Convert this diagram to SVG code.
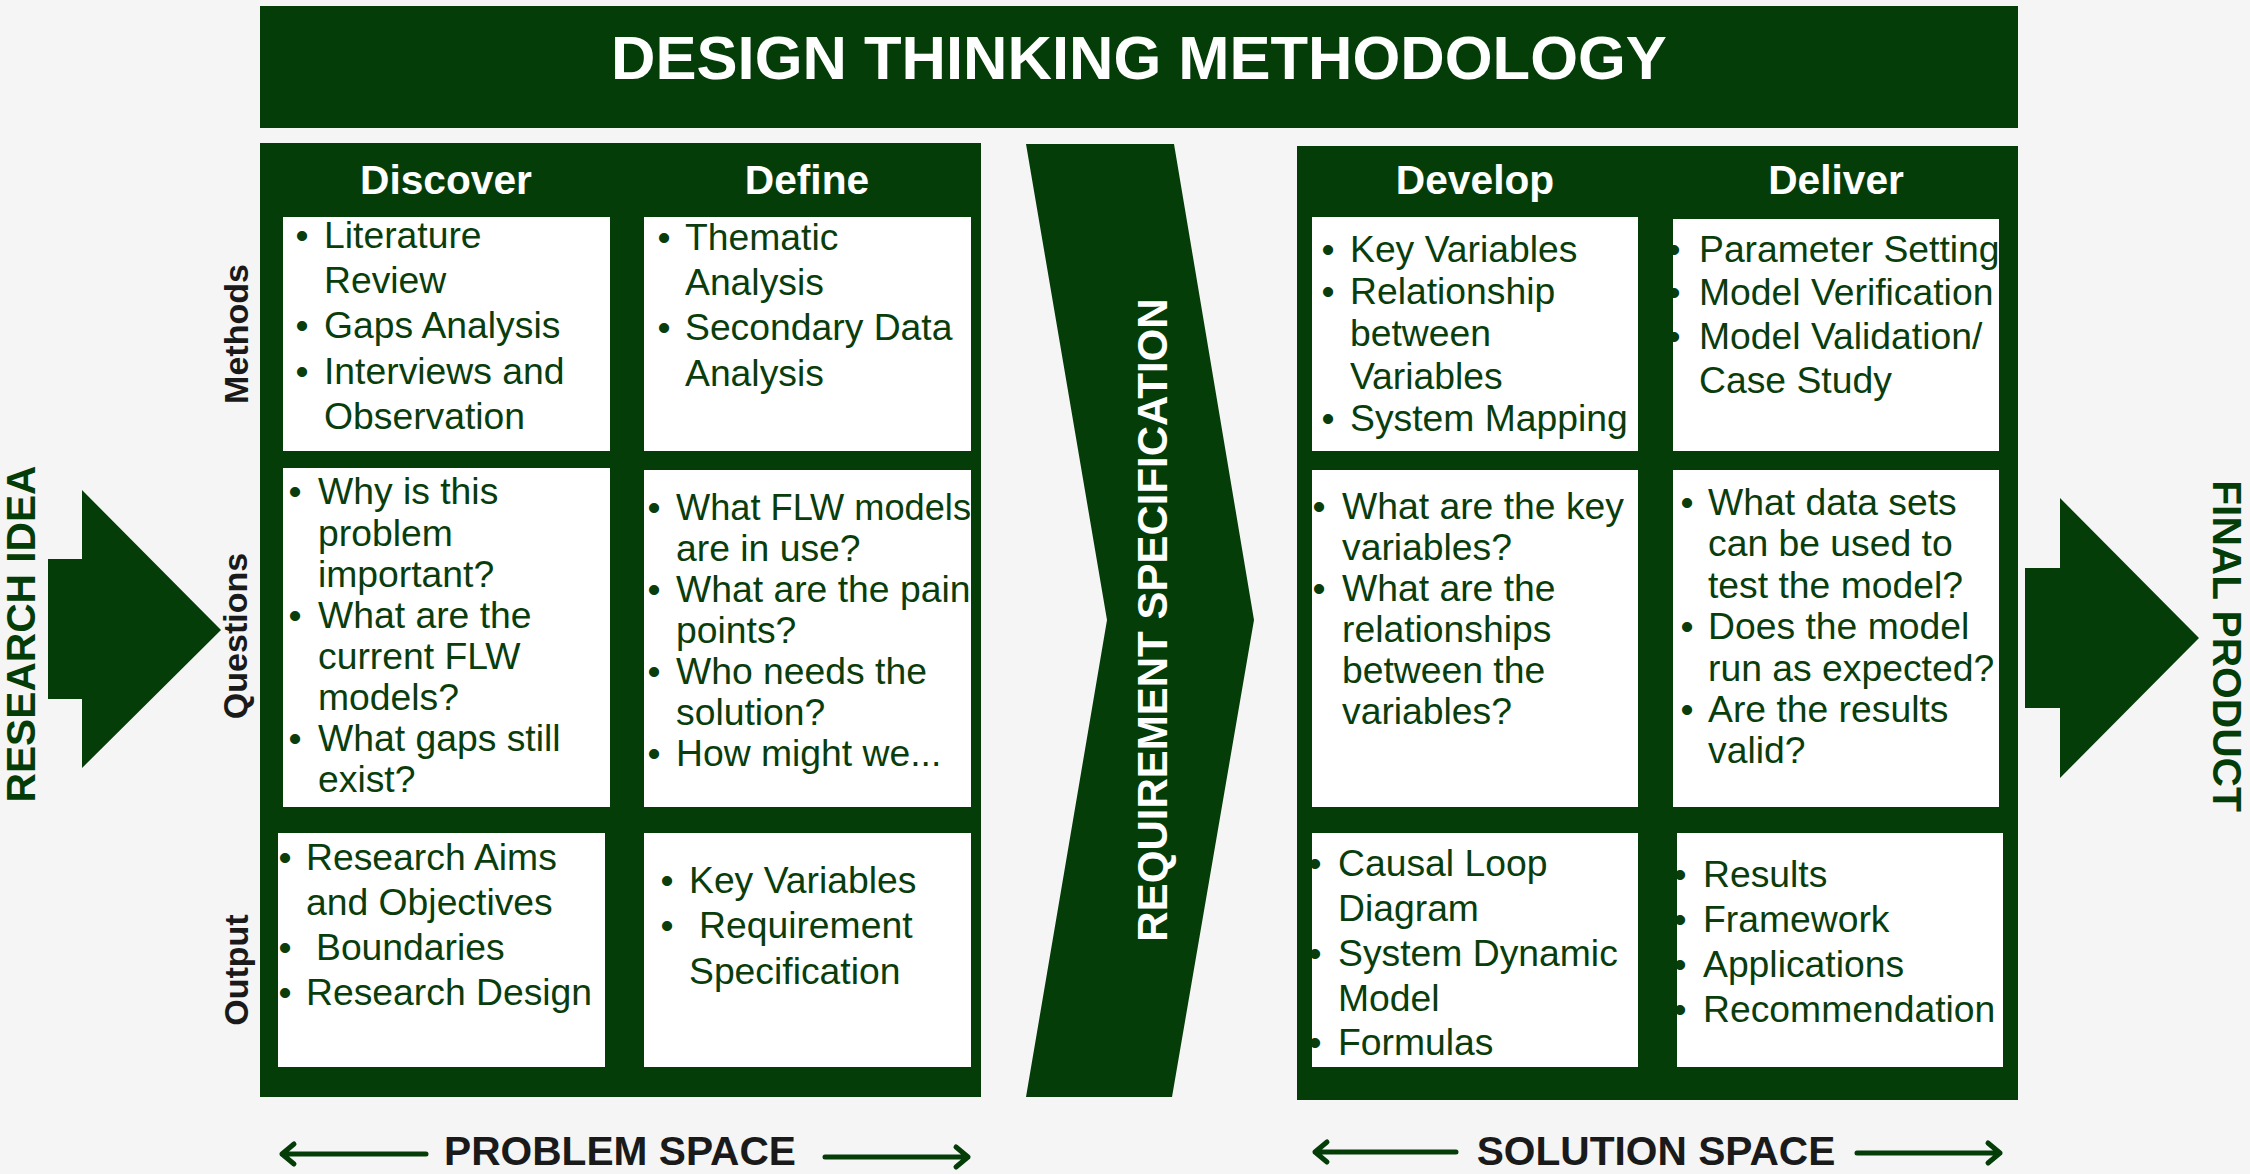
<svg xmlns="http://www.w3.org/2000/svg" width="2250" height="1174" viewBox="0 0 2250 1174">
<style>
.g{fill:#053d09}
.box{fill:#ffffff}
.t{font-family:"Liberation Sans",Arial,sans-serif;font-size:37.3px;fill:#0a3d0c}
.b{font-family:"Liberation Sans",Arial,sans-serif;font-size:37.3px;fill:#0a3d0c;text-anchor:middle}
.hd{font-family:"Liberation Sans",Arial,sans-serif;font-size:40.7px;font-weight:bold;fill:#ffffff;text-anchor:middle}
.side{font-family:"Liberation Sans",Arial,sans-serif;font-size:34px;font-weight:bold;fill:#1a1a1a;text-anchor:middle}
.big{font-family:"Liberation Sans",Arial,sans-serif;font-size:40.7px;font-weight:bold;fill:#053d09;text-anchor:middle}
.space{font-family:"Liberation Sans",Arial,sans-serif;font-size:40.7px;font-weight:bold;fill:#1a1a1a;text-anchor:middle}
.ln{stroke:#053d09;stroke-width:5;fill:none;stroke-linecap:round;stroke-linejoin:round}
</style>
<defs>
<clipPath id="c1"><rect x="278" y="833" width="327" height="234"/></clipPath>
<clipPath id="c2"><rect x="644" y="470" width="327" height="337"/></clipPath>
<clipPath id="c3"><rect x="1673" y="219" width="326" height="232"/></clipPath>
<clipPath id="c4"><rect x="1312" y="833" width="326" height="234"/></clipPath>
<clipPath id="c5"><rect x="1677" y="833" width="326" height="234"/></clipPath>
</defs>
<rect x="0" y="0" width="2250" height="1174" fill="#f5f5f5"/>

<g id="title">
<rect class="g" x="260" y="6" width="1758" height="122"/>
<text x="1139" y="79" font-family="Liberation Sans,Arial,sans-serif" font-size="61.5" font-weight="bold" fill="#ffffff" text-anchor="middle">DESIGN THINKING METHODOLOGY</text>
</g>

<g id="research-idea">
<polygon class="g" points="48,559 82,559 82,490 221,630 82,768 82,699 48,699"/>
<text class="big" transform="translate(35,634) rotate(-90)">RESEARCH IDEA</text>
</g>

<g id="final-product">
<polygon class="g" points="2025,568 2060,568 2060,498 2199,638 2060,778 2060,708 2025,708"/>
<text class="big" transform="translate(2213,646) rotate(90)">FINAL PRODUCT</text>
</g>

<g id="row-labels">
<text class="side" transform="translate(248,334) rotate(-90)">Methods</text>
<text class="side" transform="translate(247,636) rotate(-90)">Questions</text>
<text class="side" transform="translate(248,970) rotate(-90)">Output</text>
</g>

<g id="problem-space">
<rect class="g" x="260" y="143" width="721" height="954"/>
<text class="hd" x="446" y="194">Discover</text>
<text class="hd" x="807" y="194">Define</text>
</g>

<g id="discover-methods">
<rect class="box" x="283" y="217" width="327" height="234"/>
<text class="b" x="302" y="248">•</text><text class="t" x="324" y="248">Literature</text>
<text class="t" x="324" y="293">Review</text>
<text class="b" x="302" y="338">•</text><text class="t" x="324" y="338">Gaps Analysis</text>
<text class="b" x="302" y="384">•</text><text class="t" x="324" y="384">Interviews and</text>
<text class="t" x="324" y="429">Observation</text>
</g>

<g id="define-methods">
<rect class="box" x="644" y="217" width="327" height="234"/>
<text class="b" x="664" y="250">•</text><text class="t" x="685" y="250">Thematic</text>
<text class="t" x="685" y="295">Analysis</text>
<text class="b" x="664" y="340">•</text><text class="t" x="685" y="340">Secondary Data</text>
<text class="t" x="685" y="386">Analysis</text>
</g>

<g id="discover-questions">
<rect class="box" x="283" y="468" width="327" height="339"/>
<text class="b" x="295" y="504">•</text><text class="t" x="318" y="504">Why is this</text>
<text class="t" x="318" y="546">problem</text>
<text class="t" x="318" y="587">important?</text>
<text class="b" x="295" y="628">•</text><text class="t" x="318" y="628">What are the</text>
<text class="t" x="318" y="669">current FLW</text>
<text class="t" x="318" y="710">models?</text>
<text class="b" x="295" y="751">•</text><text class="t" x="318" y="751">What gaps still</text>
<text class="t" x="318" y="792">exist?</text>
</g>

<g id="define-questions">
<rect class="box" x="644" y="470" width="327" height="337"/>
<g clip-path="url(#c2)">
<text class="b" x="654" y="520">•</text><text class="t" x="676" y="520" textLength="295" lengthAdjust="spacingAndGlyphs">What FLW models</text>
<text class="t" x="676" y="561">are in use?</text>
<text class="b" x="654" y="602">•</text><text class="t" x="676" y="602">What are the pain</text>
<text class="t" x="676" y="643">points?</text>
<text class="b" x="654" y="684">•</text><text class="t" x="676" y="684">Who needs the</text>
<text class="t" x="676" y="725">solution?</text>
<text class="b" x="654" y="766">•</text><text class="t" x="676" y="766">How might we...</text>
</g>
</g>

<g id="discover-output">
<rect class="box" x="278" y="833" width="327" height="234"/>
<g clip-path="url(#c1)">
<text class="b" x="285" y="870">•</text><text class="t" x="306" y="870">Research Aims</text>
<text class="t" x="306" y="915">and Objectives</text>
<text class="b" x="285" y="960">•</text><text class="t" x="316" y="960">Boundaries</text>
<text class="b" x="285" y="1005">•</text><text class="t" x="306" y="1005">Research Design</text>
</g>
</g>

<g id="define-output">
<rect class="box" x="644" y="833" width="327" height="234"/>
<text class="b" x="667" y="893">•</text><text class="t" x="689" y="893">Key Variables</text>
<text class="b" x="667" y="938">•</text><text class="t" x="699" y="938">Requirement</text>
<text class="t" x="689" y="984">Specification</text>
</g>

<g id="requirement-specification">
<polygon class="g" points="1026,144 1174,144 1254,620 1172,1097 1026,1097 1107,620"/>
<text transform="translate(1167,620) rotate(-90)" font-family="Liberation Sans,Arial,sans-serif" font-size="42" font-weight="bold" fill="#ffffff" text-anchor="middle">REQUIREMENT SPECIFICATION</text>
</g>

<g id="solution-space">
<rect class="g" x="1297" y="146" width="721" height="954"/>
<text class="hd" x="1475" y="194">Develop</text>
<text class="hd" x="1836" y="194">Deliver</text>
</g>

<g id="develop-methods">
<rect class="box" x="1312" y="217" width="326" height="234"/>
<text class="b" x="1328" y="262">•</text><text class="t" x="1350" y="262">Key Variables</text>
<text class="b" x="1328" y="304">•</text><text class="t" x="1350" y="304">Relationship</text>
<text class="t" x="1350" y="346">between</text>
<text class="t" x="1350" y="389">Variables</text>
<text class="b" x="1328" y="431">•</text><text class="t" x="1350" y="431">System Mapping</text>
</g>

<g id="deliver-methods">
<rect class="box" x="1673" y="219" width="326" height="232"/>
<g clip-path="url(#c3)">
<text class="b" x="1674" y="262">•</text><text class="t" x="1699" y="262">Parameter Setting</text>
<text class="b" x="1674" y="305">•</text><text class="t" x="1699" y="305">Model Verification</text>
<text class="b" x="1674" y="349">•</text><text class="t" x="1699" y="349">Model Validation/</text>
<text class="t" x="1699" y="393">Case Study</text>
</g>
</g>

<g id="develop-questions">
<rect class="box" x="1312" y="470" width="326" height="337"/>
<text class="b" x="1319" y="519">•</text><text class="t" x="1342" y="519">What are the key</text>
<text class="t" x="1342" y="560">variables?</text>
<text class="b" x="1319" y="601">•</text><text class="t" x="1342" y="601">What are the</text>
<text class="t" x="1342" y="642">relationships</text>
<text class="t" x="1342" y="683">between the</text>
<text class="t" x="1342" y="724">variables?</text>
</g>

<g id="deliver-questions">
<rect class="box" x="1673" y="470" width="326" height="337"/>
<text class="b" x="1687" y="515">•</text><text class="t" x="1708" y="515">What data sets</text>
<text class="t" x="1708" y="556">can be used to</text>
<text class="t" x="1708" y="598">test the model?</text>
<text class="b" x="1687" y="639">•</text><text class="t" x="1708" y="639">Does the model</text>
<text class="t" x="1708" y="681">run as expected?</text>
<text class="b" x="1687" y="722">•</text><text class="t" x="1708" y="722">Are the results</text>
<text class="t" x="1708" y="763">valid?</text>
</g>

<g id="develop-output">
<rect class="box" x="1312" y="833" width="326" height="234"/>
<g clip-path="url(#c4)">
<text class="b" x="1315" y="876">•</text><text class="t" x="1338" y="876">Causal Loop</text>
<text class="t" x="1338" y="921">Diagram</text>
<text class="b" x="1315" y="966">•</text><text class="t" x="1338" y="966">System Dynamic</text>
<text class="t" x="1338" y="1011">Model</text>
<text class="b" x="1315" y="1055">•</text><text class="t" x="1338" y="1055">Formulas</text>
</g>
</g>

<g id="deliver-output">
<rect class="box" x="1677" y="833" width="326" height="234"/>
<g clip-path="url(#c5)">
<text class="b" x="1680" y="887">•</text><text class="t" x="1703" y="887">Results</text>
<text class="b" x="1680" y="932">•</text><text class="t" x="1703" y="932">Framework</text>
<text class="b" x="1680" y="977">•</text><text class="t" x="1703" y="977">Applications</text>
<text class="b" x="1680" y="1022">•</text><text class="t" x="1703" y="1022">Recommendation</text>
</g>
</g>

<g id="problem-space-label">
<text class="space" x="620" y="1165">PROBLEM SPACE</text>
</g>
<g id="solution-space-label">
<text class="space" x="1656" y="1165">SOLUTION SPACE</text>
</g>

<g id="connectors">
<path class="ln" d="M282,1154 H426 M294,1144 L282,1154 L294,1164"/>
<path class="ln" d="M825,1157 H968 M956,1147 L968,1157 L956,1167"/>
<path class="ln" d="M1315,1152 H1456 M1327,1142 L1315,1152 L1327,1162"/>
<path class="ln" d="M1857,1153 H2000 M1988,1143 L2000,1153 L1988,1163"/>
</g>
</svg>
